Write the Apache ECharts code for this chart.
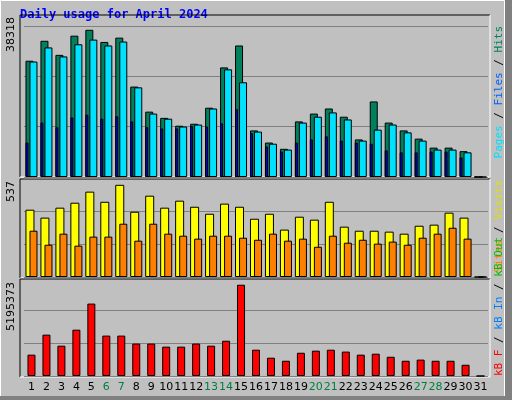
<!DOCTYPE html>
<html>
<head>
<meta charset="utf-8">
<script src="https://cdn.jsdelivr.net/npm/echarts@6/dist/echarts.min.js"></script>
<style>html,body{margin:0;padding:0;background:#c0c0c0}#chart{width:512px;height:400px}</style>
</head>
<body>
<div id="chart"></div>
<script>
// daily usage, April 2024
const days = ['1','2','3','4','5','6','7','8','9','10','11','12','13','14','15','16','17','18','19','20','21','22','23','24','25','26','27','28','29','30','31'];
const weekend = ['6','7','13','14','20','21','27','28'];
const hits = [29700,34800,31200,36100,37600,34500,35600,23100,16700,15100,13100,13600,17700,28000,33600,11900,8800,7200,14200,16200,17500,15400,9600,19300,13900,11900,9800,7500,7500,6600,0];
const files = [29500,33100,30800,33900,35100,33600,34600,22900,16200,14900,12900,13400,17500,27500,24200,11600,8500,7000,13900,15400,16500,14700,9300,12100,13400,11400,9300,7000,7000,6300,0];
const pages = [8800,13900,12700,15200,15900,14900,15500,14200,12700,12400,12400,13000,12900,13700,17300,11200,7800,6500,8800,9600,10400,9300,8800,8500,6800,6300,6300,6500,6500,5000,0];
const visits = [365,322,376,403,463,408,500,354,441,376,414,381,343,398,381,316,343,257,327,311,408,273,251,251,246,235,278,284,349,322,0];
const sites = [251,175,235,170,219,219,289,197,289,235,224,208,224,224,213,202,235,197,208,164,224,186,202,181,192,175,213,235,267,208,0];
const kbytes = [1120000,2170000,1590000,2430000,3800000,2120000,2120000,1700000,1700000,1540000,1540000,1700000,1590000,1850000,4790000,1380000,960000,800000,1220000,1330000,1380000,1280000,1120000,1170000,1010000,800000,860000,800000,800000,590000,0];
const maxHits = 38318, maxVisits = 537, maxKb = 5195373;

const chart = echarts.init(document.getElementById('chart'));
const font = 'DejaVu Sans';
const line = {color: '#000', width: 1};
const grids = [
    {left: 24, right: 24, top: 26, height: 151},
    {left: 24, right: 24, top: 178, height: 99},
    {left: 24, right: 24, top: 277, height: 99}
];
const xAxes = [];
[0, 0, 1, 1, 2, 2].forEach((g, i) => {
    xAxes.push({
        type: 'category', data: days, gridIndex: g,
        show: i === 4,
        axisLine: {show: false}, axisTick: {show: false},
        axisLabel: {
            margin: 6, fontFamily: font, fontSize: 11, interval: 0,
            color: (v) => weekend.includes(v) ? '#008040' : '#000'
        }
    });
});
const yAxis = (g, max) => ({
    type: 'value', gridIndex: g, min: 0, max: max, interval: max / 3,
    axisLabel: {show: false}, axisLine: {show: false}, axisTick: {show: false},
    splitLine: {lineStyle: {color: '#808080', width: 1}}
});
const bar = (data, x, y, color, w, extra) => Object.assign({
    type: 'bar', data: data, xAxisIndex: x, yAxisIndex: y, barWidth: w,
    itemStyle: {color: color, borderColor: '#000', borderWidth: 1}, silent: true
}, extra || {});
const ghost = (x, y, w) => ({
    type: 'bar', data: days.map(() => 0), xAxisIndex: x, yAxisIndex: y, barWidth: w,
    itemStyle: {color: 'transparent'}, silent: true
});
const panel = (x, y, w, h) => ({
    type: 'group', children: [
        {type: 'line', shape: {x1: x, y1: y, x2: x + w, y2: y}, style: {stroke: '#000'}},
        {type: 'line', shape: {x1: x, y1: y, x2: x, y2: y + h}, style: {stroke: '#000'}},
        {type: 'line', shape: {x1: x, y1: y + h, x2: x + w, y2: y + h}, style: {stroke: '#fff'}},
        {type: 'line', shape: {x1: x + w, y1: y, x2: x + w, y2: y + h}, style: {stroke: '#fff'}}
    ]
});
const vtext = (x, y, rich, text) => ({
    type: 'text', x: x, y: y, rotation: Math.PI / 2,
    style: {text: text, rich: rich, font: '11px "DejaVu Sans Mono"', fill: '#000', align: 'right', verticalAlign: 'middle'}
});

chart.setOption({
    backgroundColor: '#c0c0c0',
    animation: false,
    grid: grids,
    xAxis: xAxes,
    yAxis: [yAxis(0, maxHits * 151 / 150), yAxis(0, maxHits * 151 / 150), yAxis(1, maxVisits), yAxis(1, maxVisits), yAxis(2, maxKb), yAxis(2, maxKb)],
    series: [
        bar(hits, 0, 0, '#00805c', 8, {barGap: '-50%', z: 2}),
        bar(files, 0, 0, '#00e0ff', 8, {z: 3}),
        bar(pages, 1, 1, '#0000ff', 3, {barGap: '0%', z: 4}),
        ghost(1, 1, 9),
        bar(visits, 2, 2, '#ffff00', 9, {barGap: '-55%'}),
        bar(sites, 2, 2, '#ff8000', 8),
        bar(kbytes, 4, 4, '#ff0000', 8, {barGap: '-50%'}),
        ghost(4, 4, 4)
    ],
    graphic: [
        {type: 'rect', shape: {x: 0.5, y: 0.5, width: 504, height: 396}, style: {fill: 'none', stroke: '#fff'}},
        {type: 'rect', shape: {x: 505, y: 0, width: 7, height: 400}, style: {fill: '#808080'}},
        {type: 'rect', shape: {x: 0, y: 396, width: 512, height: 4}, style: {fill: '#808080'}},
        {type: 'text', x: 20, y: 9, style: {text: 'Daily usage for April 2024', font: 'bold 12px "DejaVu Sans Mono"', fill: '#0000ff'}},
        panel(20, 15, 470, 162),
        panel(20, 179, 470, 99),
        panel(20, 279, 470, 98),
        {type: 'text', x: 11, y: 17, rotation: Math.PI / 2, style: {text: '38318', font: '11px "DejaVu Sans"', fill: '#000', align: 'right', verticalAlign: 'middle'}},
        {type: 'text', x: 11, y: 181, rotation: Math.PI / 2, style: {text: '537', font: '11px "DejaVu Sans"', fill: '#000', align: 'right', verticalAlign: 'middle'}},
        {type: 'text', x: 11, y: 282, rotation: Math.PI / 2, style: {text: '5195373', font: '11px "DejaVu Sans"', fill: '#000', align: 'right', verticalAlign: 'middle'}},
        vtext(499, 26, {p: {fill: '#00e0ff'}, f: {fill: '#0060ff'}, h: {fill: '#00805c'}},
            '{p|Pages} / {f|Files} / {h|Hits}'),
        vtext(499, 180, {s: {fill: '#ff8000'}, v: {fill: '#e0e000'}},
            '{s|Sites} / {v|Visits}'),
        {type: 'text', x: 499, y: 376, rotation: Math.PI / 2,
            style: {text: '{f|kB F} / {i|kB In} / {o|kB Out}', font: '11px "DejaVu Sans Mono"', fill: '#000', align: 'left', verticalAlign: 'middle',
                rich: {f: {fill: '#ff0000'}, i: {fill: '#0080ff'}, o: {fill: '#00c000'}}}}
    ]
});
</script>
</body>
</html>
